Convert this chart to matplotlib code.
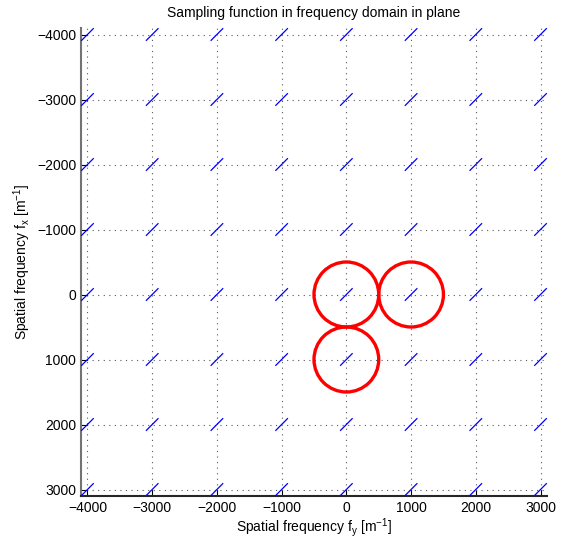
import numpy as np
import matplotlib.pyplot as plt
from matplotlib.patches import Circle

plt.rcParams['font.family'] = ['Liberation Sans', 'DejaVu Sans']
plt.rcParams['font.size'] = 10

# sampling lattice (spatial frequencies, 1/m)
fy_samples = [-4000, -3000, -2000, -1000, 0, 1000, 2000, 3000]
fx_samples = [-4000, -3000, -2000, -1000, 0, 1000, 2000, 3000]

# spectrum replicas (red circles)
circle_fy = [0, 1000, 0]
circle_fx = [0, 0, 1000]
circle_radius = 500

ticks = [-4000, -3000, -2000, -1000, 0, 1000, 2000, 3000]

half = 90  # half-extent of the delta markers

fig = plt.figure(figsize=(5.62, 5.40), dpi=100)
ax = fig.add_axes([81 / 562, 1 - 496 / 540, 466 / 562, 468 / 540])

# delta markers at each lattice point
for fx in fx_samples:
    for fy in fy_samples:
        ax.plot([fy - half, fy + half], [fx + half, fx - half], color='blue', lw=0.9,
                clip_on=False, zorder=3)

for cy, cx in zip(circle_fy, circle_fx):
    ax.add_patch(Circle((cy, cx), circle_radius, fill=False, edgecolor='red', lw=2.4, zorder=4))

ax.set_xlim(-4100, 3100)
ax.set_ylim(3100, -4100)
ax.set_xticks(ticks)
ax.set_yticks(ticks)
ax.grid(True, linestyle=(0, (1, 4)), color='0.35', lw=0.8)
ax.tick_params(direction='in', length=4, width=0.8, labelsize=10)

for s in ['top', 'right']:
    ax.spines[s].set_visible(False)
ax.spines['left'].set_color('0.45')
ax.spines['left'].set_linewidth(1.5)
ax.spines['bottom'].set_color('0.15')
ax.spines['bottom'].set_linewidth(1.5)

ax.set_title('Sampling function in frequency domain in plane', fontsize=10, pad=8)
ax.set_xlabel(r'Spatial frequency f$_\mathregular{y}$ [m$^{\mathregular{-1}}$]', fontsize=10, labelpad=1)
ax.set_ylabel(r'Spatial frequency f$_\mathregular{x}$ [m$^{\mathregular{-1}}$]', fontsize=10, labelpad=3)

fig.savefig('out.png', dpi=100)
